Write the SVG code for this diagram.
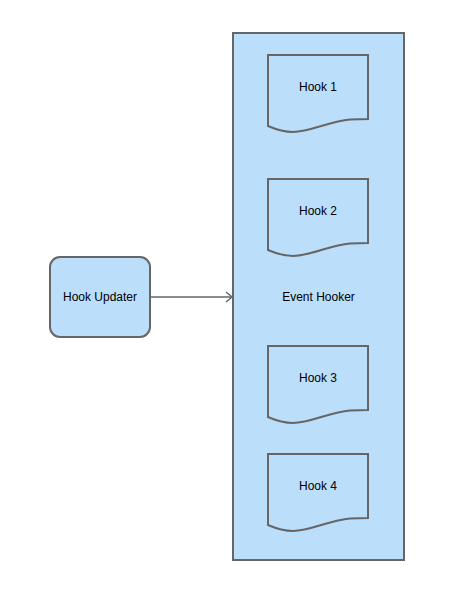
<svg xmlns="http://www.w3.org/2000/svg" width="454" height="602" viewBox="0 0 454 602">
<style>
.box{fill:#bbdefb;stroke:#666666;stroke-width:2}
.lbl{font-family:"Liberation Sans",Arial,sans-serif;font-size:12px;fill:#000;text-anchor:middle;dominant-baseline:central}
.edge{fill:none;stroke:#666666;stroke-width:1.5}
</style>
<defs>
<path id="doc" d="M0,0 L100,0 L100,64 L82,64.5 C62,66 42,77 25,77 C15,77 7,74 0,71 Z"/>
<marker id="arr" markerWidth="10" markerHeight="12" refX="8" refY="6" orient="auto" markerUnits="userSpaceOnUse">
<path d="M2,1 L8,6 L2,11" fill="none" stroke="#666666" stroke-width="1.5"/>
</marker>
</defs>
<g id="event-hooker">
<rect class="box" x="233" y="33" width="171" height="527"/>
<text class="lbl" x="318.5" y="297">Event Hooker</text>
</g>
<g id="hook1">
<use href="#doc" class="box" x="268" y="55"/>
<text class="lbl" x="318" y="87">Hook 1</text>
</g>
<g id="hook2">
<use href="#doc" class="box" x="268" y="179"/>
<text class="lbl" x="318" y="211">Hook 2</text>
</g>
<g id="hook3">
<use href="#doc" class="box" x="268" y="346"/>
<text class="lbl" x="318" y="378">Hook 3</text>
</g>
<g id="hook4">
<use href="#doc" class="box" x="268" y="454"/>
<text class="lbl" x="318" y="486">Hook 4</text>
</g>
<g id="hook-updater">
<rect class="box" x="50" y="257" width="100" height="80" rx="10" ry="10"/>
<text class="lbl" x="100" y="297">Hook Updater</text>
</g>
<g id="connectors">
<path class="edge" d="M150,297 L232,297" marker-end="url(#arr)"/>
</g>
</svg>
